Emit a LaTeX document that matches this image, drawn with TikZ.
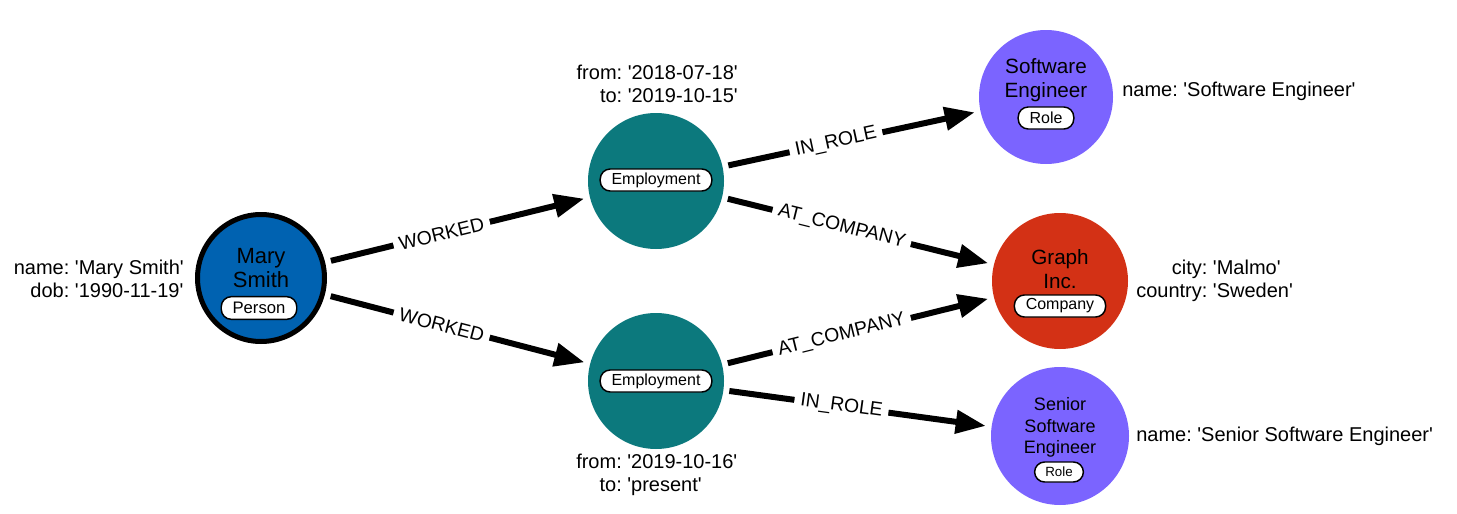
\documentclass[tikz,border=0pt]{standalone}
\usepackage{fontspec}
\setmainfont{Liberation Sans}[Ligatures=TeXOff]
\usetikzlibrary{arrows.meta}
\definecolor{cblue}{HTML}{0062B1}
\definecolor{cteal}{HTML}{0C797D}
\definecolor{cred}{HTML}{D33115}
\definecolor{cpurple}{HTML}{7B64FF}
\newcommand{\props}[1]{{\fontsize{15pt}{17.25pt}\selectfont\begin{tabular}{@{}r@{\ }l@{}}#1\end{tabular}}}
\tikzset{
  gnode/.style={circle, inner sep=0pt, outer sep=0pt},
  captext/.style={align=center, inner sep=0pt, font=\fontsize{15.5pt}{18pt}\selectfont},
  pill/.style={draw=black, fill=white, line width=1.1pt, rounded corners=7.5pt,
    minimum height=16.5pt, inner xsep=8.5pt, inner ysep=0pt, font=\fontsize{12pt}{14pt}\selectfont},
  edge/.style={line width=4.5pt, shorten <=4.5pt, shorten >=4.5pt,
    -{Triangle[length=22.5pt,width=17pt]}},
  elabel/.style={sloped, fill=white, inner xsep=4.5pt, inner ysep=2pt, pos=0.44,
    font=\fontsize{14.5pt}{16pt}\selectfont},
  prop/.style={inner sep=0pt}
}
\begin{document}
\begin{tikzpicture}[x=0.75pt, y=-0.75pt]
\useasboundingbox (0,0) rectangle (1457,514);
% nodes
\node[gnode, fill=cblue, draw=black, line width=3.75pt, minimum size=95.25pt, outer sep=1.875pt] (m) at (261,278) {};
\node[gnode, fill=cteal, minimum size=102pt] (e1) at (656,181) {};
\node[gnode, fill=cteal, minimum size=102pt] (e2) at (656,381) {};
\node[gnode, fill=cpurple, minimum size=100.5pt] (se) at (1046,97) {};
\node[gnode, fill=cred, minimum size=102pt] (g) at (1060,281) {};
\node[gnode, fill=cpurple, minimum size=103.5pt] (sse) at (1060,436) {};
% captions
\node[captext, font=\fontsize{16.5pt}{18pt}\selectfont] (mcap) at (261,268) {Mary\\Smith};
\node[pill, font=\fontsize{12.5pt}{14pt}\selectfont, minimum height=17pt] (mpill) at (259,308) {Person};
\node[pill] (e1pill) at (656,180) {Employment};
\node[pill] (e2pill) at (656,381) {Employment};
\node[captext] (secap) at (1046,80) {Software\\Engineer};
\node[pill] (sepill) at (1046,118) {Role};
\node[captext] (gcap) at (1060,269.5) {Graph\\Inc.};
\node[pill] (gpill) at (1060,306) {Company};
\node[captext, font=\fontsize{13.5pt}{16.1pt}\selectfont] (ssecap) at (1060,427.5) {Senior\\Software\\Engineer};
\node[pill, font=\fontsize{10pt}{12pt}\selectfont, minimum height=15pt, inner xsep=8pt] (ssepill) at (1059,472) {Role};
% properties
\node[prop, anchor=east] (mprops) at (184,281) {\props{name: & 'Mary Smith'\\ dob: & '1990-11-19'}};
\node[prop, anchor=east] (e1props) at (738,86.5) {\props{from: & '2018-07-18'\\ to: & '2019-10-15'}};
\node[prop, anchor=west] (e2props) at (576,475.5) {\props{from: & '2019-10-16'\\ to: & 'present'}};
\node[prop, anchor=west] (seprops) at (1122,92) {\props{name: & 'Software Engineer'}};
\node[prop, anchor=west] (gprops) at (1136,281.5) {\props{city: & 'Malmo'\\ country: & 'Sweden'}};
\node[prop, anchor=west] (sseprops) at (1136,437) {\props{name: & 'Senior Software Engineer'}};
% edges
\draw[edge] (m) -- node[elabel] {WORKED} (e1);
\draw[edge] (m) -- node[elabel] {WORKED} (e2);
\draw[edge] (e1) -- node[elabel] {IN\_ROLE} (se);
\draw[edge] (e1) -- node[elabel] {AT\_COMPANY} (g);
\draw[edge] (e2) -- node[elabel] {AT\_COMPANY} (g);
\draw[edge] (e2) -- node[elabel] {IN\_ROLE} (sse);
\end{tikzpicture}
\end{document}
